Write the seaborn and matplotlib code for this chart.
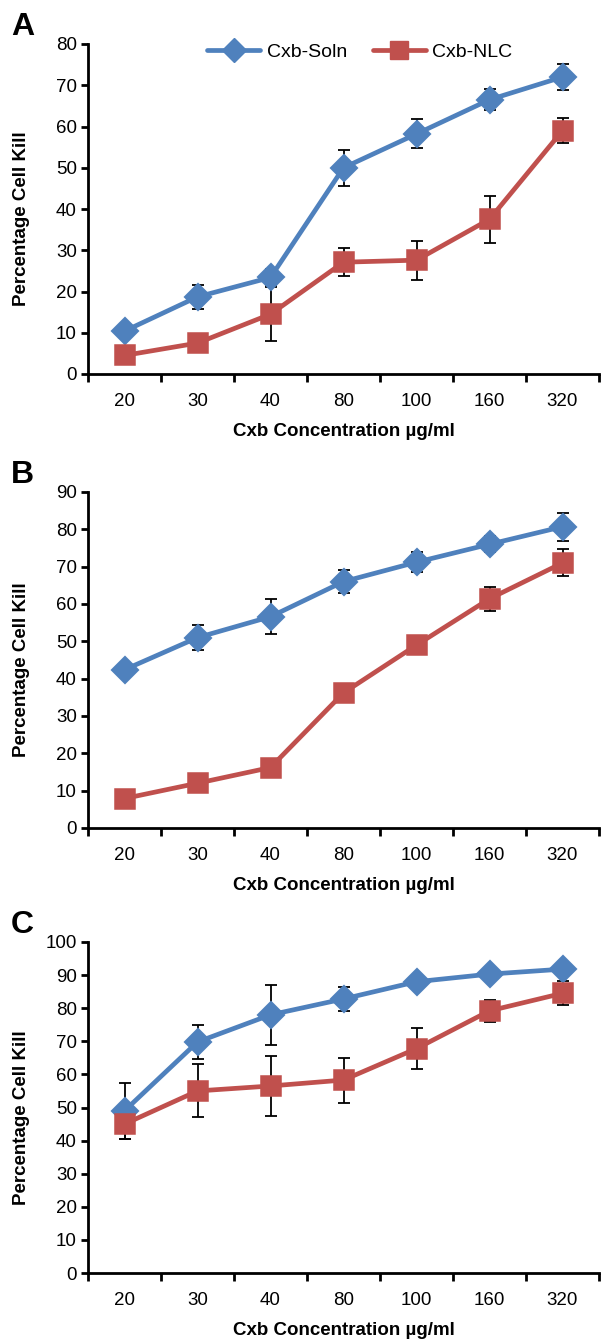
import numpy as np
import pandas as pd
import seaborn as sns
import matplotlib
import matplotlib.pyplot as plt
from matplotlib.lines import Line2D

matplotlib.use("Agg")

conc = ["20", "30", "40", "80", "100", "160", "320"]

# panel A
a_soln = [10.4, 18.7, 23.4, 50.0, 58.2, 66.5, 72.0]
a_soln_err = [1.6, 2.9, 2.0, 4.4, 3.5, 2.6, 3.2]
a_nlc = [4.5, 7.5, 14.5, 27.1, 27.6, 37.5, 59.0]
a_nlc_err = [0.8, 1.0, 6.6, 3.4, 4.7, 5.7, 3.1]

# panel B
b_soln = [42.4, 51.0, 56.6, 66.0, 71.2, 76.0, 80.7]
b_soln_err = [1.0, 3.3, 4.7, 3.1, 2.6, 2.2, 3.7]
b_nlc = [7.9, 12.0, 16.2, 36.2, 49.0, 61.4, 71.0]
b_nlc_err = [0.8, 0.8, 0.8, 0.8, 2.5, 3.2, 3.6]

# panel C
c_soln = [49.0, 69.8, 78.0, 82.8, 88.0, 90.3, 91.8]
c_soln_err = [8.5, 5.2, 9.0, 3.5, 1.5, 2.2, 1.5]
c_nlc = [45.0, 55.0, 56.5, 58.3, 67.8, 79.2, 84.5]
c_nlc_err = [4.5, 8.0, 9.0, 6.8, 6.2, 3.4, 3.6]

series = ["Cxb-Soln", "Cxb-NLC"]
colors = {"Cxb-Soln": "#4f81bd", "Cxb-NLC": "#c0504d"}
markers = {"Cxb-Soln": "D", "Cxb-NLC": "s"}

panels = [
  ("A", a_soln, a_soln_err, a_nlc, a_nlc_err, 80, 374, 44),
  ("B", b_soln, b_soln_err, b_nlc, b_nlc_err, 90, 828, 492),
  ("C", c_soln, c_soln_err, c_nlc, c_nlc_err, 100, 1273, 942),
]

sns.set_style("ticks", {"axes.edgecolor": "black", "text.color": "black",
                        "axes.labelcolor": "black", "xtick.color": "black",
                        "ytick.color": "black"})
plt.rcParams["font.family"] = ["Liberation Sans", "DejaVu Sans"]

W, H = 601, 1343
fig = plt.figure(figsize=(W / 100, H / 100), dpi=100)

for letter, soln, soln_err, nlc, nlc_err, ymax, y0, ytop in panels:
  ax = fig.add_axes([88 / W, (H - y0) / H, 511 / W, (y0 - ytop) / H])
  df = pd.DataFrame({
    "conc": conc * 2,
    "value": soln + nlc,
    "series": [series[0]] * len(conc) + [series[1]] * len(conc),
  })
  pos = np.arange(len(conc))
  for vals, errs in ((soln, soln_err), (nlc, nlc_err)):
    ax.errorbar(pos, vals, yerr=errs, fmt="none", ecolor="black", elinewidth=1.3,
                capsize=4.5, capthick=1.3, zorder=1)
  sns.pointplot(
    data=df, x="conc", y="value", hue="series", order=conc, hue_order=series,
    palette=colors, markers=[markers[s] for s in series], linestyles=["-", "-"],
    errorbar=None, markersize=12.5, linewidth=3.4, ax=ax, legend=False,
  )

  ax.set_xlim(-0.5, len(conc) - 0.5)
  ax.set_ylim(0, ymax)
  ax.set_yticks(np.arange(0, ymax + 1, 10))
  ax.set_xticks(np.arange(-0.5, len(conc), 1))
  ax.set_xticklabels([])
  ax.set_xticks(pos, minor=True)
  ax.set_xticklabels(conc, minor=True)
  ax.tick_params(axis="x", which="major", length=6, width=2, direction="out")
  ax.tick_params(axis="x", which="minor", length=0, pad=14, labelsize=13.5)
  ax.tick_params(axis="y", length=5, width=2, direction="out", pad=3, labelsize=13.5)
  for side in ("left", "bottom"):
    ax.spines[side].set_linewidth(2)
  sns.despine(ax=ax)
  ax.set_xlabel("Cxb Concentration µg/ml", fontsize=13.5, fontweight="bold", labelpad=9)
  ax.set_ylabel("Percentage Cell Kill", fontsize=13.5, fontweight="bold")
  ax.yaxis.set_label_coords(-58 / 511, 0.5 - 10 / (y0 - ytop))
  fig.text(11 / W, 1 - (ytop - 17) / H, letter, fontsize=23, fontweight="bold",
           ha="left", va="center")

  if letter == "A":
    handles = [
      Line2D([], [], color=colors[s], marker=markers[s], lw=3.4, markersize=12.5)
      for s in series
    ]
    ax.legend(handles, series, loc="center", bbox_to_anchor=(360 / W, 1 - 52 / H),
              bbox_transform=fig.transFigure, ncol=2, frameon=False, fontsize=14,
              handlelength=2.7, columnspacing=1.35, handletextpad=0.35)

fig.savefig("out.png", dpi=100)
